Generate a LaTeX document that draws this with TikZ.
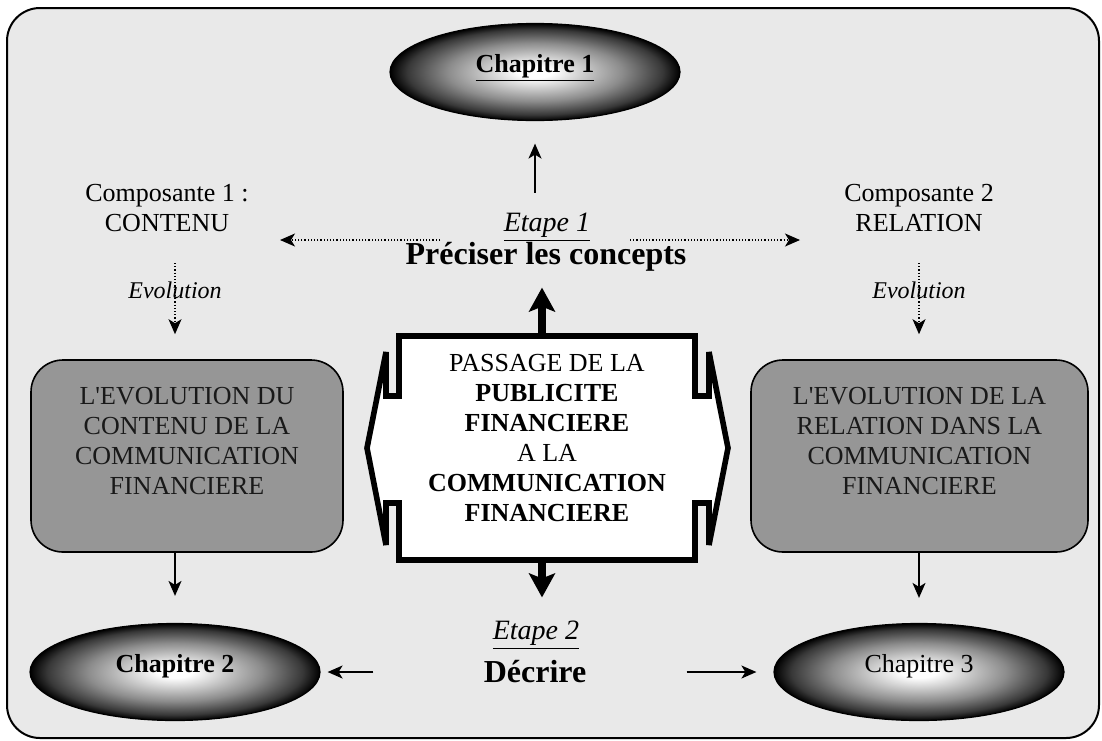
\documentclass[tikz,border=0pt]{standalone}
\usepackage{fontspec}
\setmainfont{Liberation Serif}
\usetikzlibrary{arrows.meta,shapes.geometric}
\definecolor{bgc}{RGB}{233,233,233}
\definecolor{boxc}{RGB}{150,150,150}
\pgfdeclareradialshading{ellshade}{\pgfpoint{0bp}{0bp}}{color(0bp)=(white);color(3bp)=(white);color(15bp)=(black!45);color(22bp)=(black!78);color(25bp)=(black);color(50bp)=(black)}
\begin{document}
\begin{tikzpicture}[x=0.5pt,y=-0.5pt,
  txt/.style={inner sep=0pt, align=center, font=\fontsize{13}{15}\selectfont},
  etapetxt/.style={inner sep=0pt, font=\fontsize{14}{16}\selectfont\itshape},
  bigtxt/.style={inner sep=0pt, font=\fontsize{16}{18}\selectfont\bfseries},
  evotxt/.style={inner sep=0pt, font=\fontsize{12}{14}\selectfont\itshape},
  chap/.style={ellipse, draw=black, line width=0.6pt, shading=ellshade, minimum width=145pt, minimum height=48.5pt, inner sep=0pt, font=\fontsize{13}{15}\selectfont},
  graybox/.style={rectangle, rounded corners=16pt, draw=black, line width=0.8pt, fill=boxc, inner sep=0pt, align=center, font=\fontsize{13}{15}\selectfont, text=black!90},
  thinarr/.style={line width=0.8pt, -{Stealth[length=7.5pt,width=6.5pt,inset=2pt]}},
  dotarr/.style={line width=0.6pt, densely dotted, -{Stealth[length=7.5pt,width=6.5pt,inset=2pt]}},
  thickarr/.style={line width=4pt, -{Stealth[length=12pt,width=13pt,inset=2.5pt]}},
]
\fill[white] (0,0) rectangle (1102,740);
\useasboundingbox (0,0) rectangle (1102,740);
\draw[line width=1pt, fill=bgc, rounded corners=16.5pt] (7,8) rectangle (1099,738);

% ellipses
\node[chap] (ch1) at (535,72) {\raisebox{9pt}{\textbf{\underline{Chapitre 1}}}};
\node[chap] (ch2) at (175,672) {\raisebox{9pt}{\textbf{Chapitre 2}}};
\node[chap] (ch3) at (919,672) {\raisebox{9pt}{Chapitre 3}};

% components
\node[txt] (comp1) at (167,208) {Composante 1 :\\CONTENU};
\node[txt] (comp2) at (919,208) {Composante 2\\RELATION};

% step 1
\node[etapetxt] (etape1) at (547,227) {\underline{Etape 1}};
\node[bigtxt] (prec) at (546,257) {Préciser les concepts};

% evolution labels
\node[evotxt] (evo1) at (175,290) {Evolution};
\node[evotxt] (evo2) at (919,290) {Evolution};

% gray boxes
\node[graybox, minimum width=156pt, minimum height=96pt] (box1) at (187,456) {L\textquotesingle EVOLUTION DU\\CONTENU DE LA\\COMMUNICATION\\FINANCIERE\\\mbox{}};
\node[graybox, minimum width=168.5pt, minimum height=96pt] (box2) at (919.5,456) {L\textquotesingle EVOLUTION DE LA\\RELATION DANS LA\\COMMUNICATION\\FINANCIERE\\\mbox{}};

% central shape
\node[minimum width=148pt, minimum height=112pt, inner sep=0pt] (pass) at (547,448) {};
\draw[line width=2.8pt, fill=white] (399,336) -- (695,336) -- (695,396) -- (709,396) -- (709,352) -- (728,448) -- (709,545) -- (709,503) -- (695,503) -- (695,560) -- (399,560) -- (399,503) -- (386,503) -- (386,545) -- (367,448) -- (386,352) -- (386,396) -- (399,396) -- cycle;
\node[txt] (passtxt) at (547,438) {PASSAGE DE LA\\\textbf{PUBLICITE}\\\textbf{FINANCIERE}\\A LA\\\textbf{COMMUNICATION}\\\textbf{FINANCIERE}};

% step 2
\node[etapetxt] (etape2) at (536,635) {\underline{Etape 2}};
\node[bigtxt] (decrire) at (535,672) {Décrire};

% connectors
\draw[thickarr] ([xshift=-2.5pt]pass.north) -- ([xshift=-2.5pt,yshift=24pt]pass.north);
\draw[thickarr] ([xshift=-2.5pt]pass.south) -- ([xshift=-2.5pt,yshift=-18.5pt]pass.south);
\draw[thinarr, shorten <=9.75pt, shorten >=11.25pt] (etape1.north -| ch1.south) -- (ch1.south);
\draw[dotarr] ([shift={(-107,13)}]etape1.center) -- ([shift={(-267,13)}]etape1.center);
\draw[dotarr] ([shift={(83,13)}]etape1.center) -- ([shift={(253,13)}]etape1.center);
\draw[dotarr, shorten >=12.5pt] ([yshift=13.5pt]evo1.center) -- (evo1 |- box1.north);
\draw[dotarr, shorten >=12.5pt] ([yshift=13.5pt]evo2.center) -- (evo2 |- box2.north);
\draw[thinarr, shorten >=13.5pt] (ch2 |- box1.south) -- (ch2.north);
\draw[thinarr, shorten >=12.5pt] (ch3 |- box2.south) -- (ch3.north);
\draw[thinarr, shorten <=55pt, shorten >=3.5pt] (decrire.west |- ch2.east) -- (ch2.east);
\draw[thinarr, shorten <=50pt, shorten >=8.5pt] (decrire.east |- ch3.west) -- (ch3.west);
\end{tikzpicture}
\end{document}
